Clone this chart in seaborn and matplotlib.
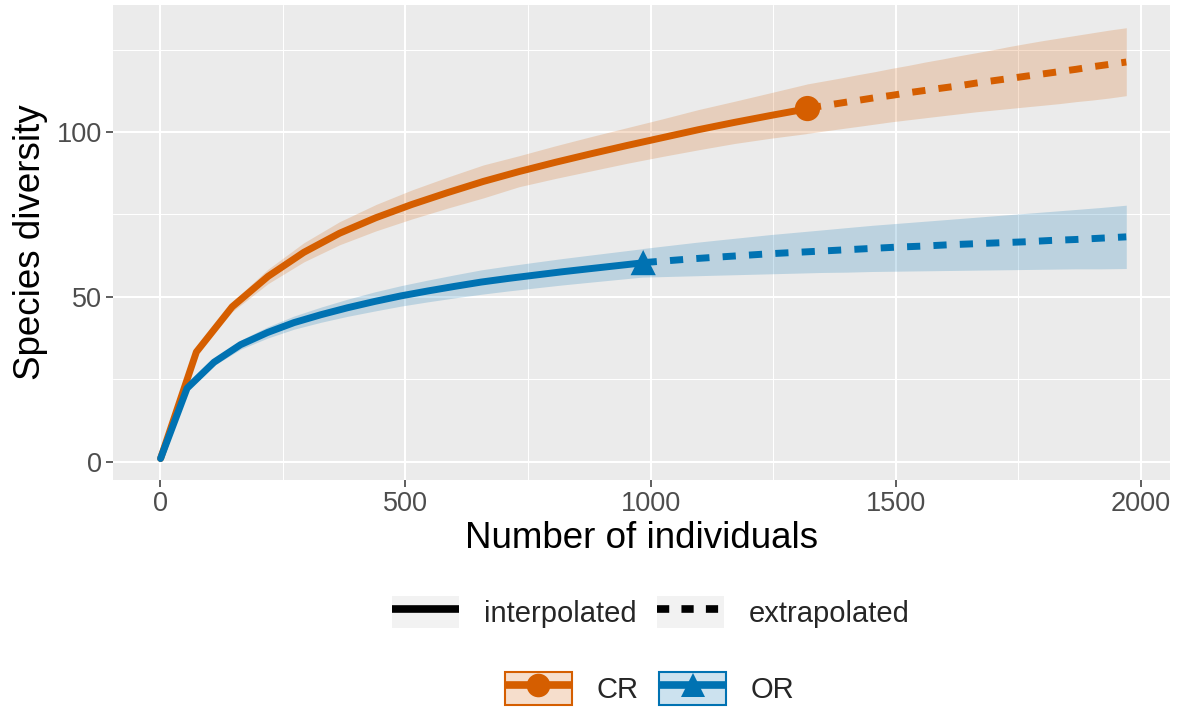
import numpy as np
import pandas as pd
import matplotlib
matplotlib.use("Agg")
import matplotlib.pyplot as plt
from matplotlib.lines import Line2D
from matplotlib.patches import Patch
from matplotlib.legend_handler import HandlerTuple
from matplotlib.ticker import MultipleLocator
import seaborn as sns

# ---- rarefaction / extrapolation estimates per site ----
sites = ["CR", "OR"]
colors = {"CR": "#D55E00", "OR": "#0072B2"}
markers = {"CR": "o", "OR": "^"}

cr_m_int = [1, 74, 147, 220, 293, 366, 440, 513, 586, 659, 732, 806, 879, 952,
            1025, 1098, 1171, 1245, 1318, 1320]
cr_qd_int = [1, 33.3, 47, 56.2, 63.5, 69.3, 74, 78, 81.6, 85, 88, 90.8, 93.4, 95.9,
             98.3, 100.7, 102.9, 105, 107, 107.1]
cr_lo_int = [1, 32.5, 45.5, 54, 60.6, 65.8, 70, 73.6, 76.9, 80, 83.4, 85.9, 88.2, 90.5,
             92.6, 94.6, 96.5, 98.1, 99.5, 99.6]
cr_hi_int = [1, 34.2, 48.5, 58.4, 66.4, 72.8, 78, 82.4, 86.3, 90, 92.8, 95.8, 98.6, 101.3,
             104, 106.8, 109.3, 111.9, 114.5, 114.6]

cr_m_ext = [1321, 1355, 1389, 1424, 1458, 1492, 1526, 1560, 1594, 1629, 1663, 1697,
            1731, 1765, 1800, 1834, 1868, 1902, 1936, 1970]
cr_qd_ext = [107.2, 108.0, 108.8, 109.6, 110.4, 111.1, 111.9, 112.6, 113.3, 114.0, 114.8,
             115.5, 116.2, 116.9, 117.6, 118.3, 119.0, 119.8, 120.5, 121.2]
cr_lo_ext = [99.6, 100.3, 101.0, 101.7, 102.4, 103.1, 103.7, 104.3, 104.9, 105.5, 106.1,
             106.6, 107.1, 107.6, 108.1, 108.6, 109.2, 109.7, 110.3, 111.0]
cr_hi_ext = [114.6, 115.5, 116.4, 117.4, 118.3, 119.3, 120.2, 121.2, 122.1, 123.1, 124.0,
             124.9, 125.9, 126.8, 127.7, 128.5, 129.3, 130.1, 130.9, 131.6]

or_m_int = [1, 55, 110, 164, 219, 273, 328, 382, 437, 491, 546, 601, 655, 710, 764,
            819, 873, 928, 983, 985]
or_qd_int = [1, 22.3, 30.2, 35.5, 39.2, 42.2, 44.6, 46.7, 48.6, 50.3, 51.8, 53.2, 54.5,
             55.6, 56.6, 57.6, 58.5, 59.4, 60.3, 60.4]
or_lo_int = [1, 21.8, 29.2, 34.1, 37.5, 40.2, 42.3, 44.1, 45.7, 47.2, 48.5, 49.7, 50.8,
             51.8, 52.7, 53.6, 54.4, 55.2, 56.0, 56.0]
or_hi_int = [1, 22.8, 31.2, 36.9, 40.9, 44.2, 46.9, 49.3, 51.5, 53.4, 55.1, 56.7, 58.2,
             59.4, 60.5, 61.6, 62.6, 63.6, 64.6, 64.7]

or_m_ext = [986, 1038, 1090, 1141, 1193, 1245, 1297, 1349, 1400, 1452, 1504, 1556, 1608,
            1659, 1711, 1763, 1815, 1867, 1918, 1970]
or_qd_ext = [60.4, 61.0, 61.6, 62.1, 62.6, 63.1, 63.5, 63.9, 64.3, 64.7, 65.1, 65.4, 65.8,
             66.1, 66.4, 66.7, 67.1, 67.4, 67.8, 68.2]
or_lo_ext = [56.0, 56.2, 56.4, 56.6, 56.8, 57.0, 57.2, 57.4, 57.5, 57.7, 57.8, 57.9, 58.0,
             58.1, 58.2, 58.3, 58.4, 58.5, 58.5, 58.6]
or_hi_ext = [64.7, 65.6, 66.5, 67.3, 68.1, 68.9, 69.6, 70.3, 71.0, 71.7, 72.3, 72.9, 73.5,
             74.1, 74.7, 75.3, 75.9, 76.5, 77.1, 77.8]

# observed sample size and richness
obs_m = [1320, 985]
obs_qd = [107.1, 60.4]

x_ticks = [0, 500, 1000, 1500, 2000]
y_ticks = [0, 50, 100]

# ---- assemble long table ----
frames = []
for site, parts in {
    "CR": [("interpolated", cr_m_int, cr_qd_int, cr_lo_int, cr_hi_int),
           ("extrapolated", cr_m_ext, cr_qd_ext, cr_lo_ext, cr_hi_ext)],
    "OR": [("interpolated", or_m_int, or_qd_int, or_lo_int, or_hi_int),
           ("extrapolated", or_m_ext, or_qd_ext, or_lo_ext, or_hi_ext)],
}.items():
    for method, m, qd, lo, hi in parts:
        frames.append(pd.DataFrame({"site": site, "method": method, "m": m,
                                    "qD": qd, "lo": lo, "hi": hi}))
df = pd.concat(frames, ignore_index=True)
obs = pd.DataFrame({"site": sites, "m": obs_m, "qD": obs_qd})

# ---- theme ----
sns.set_theme(style="darkgrid", rc={
    "axes.facecolor": "#EBEBEB",
    "grid.color": "white",
    "axes.edgecolor": "none",
})
plt.rcParams["font.family"] = ["Liberation Sans", "DejaVu Sans"]

fig = plt.figure(figsize=(11.77, 7.10), dpi=100)
ax = fig.add_axes([0.096, 0.324, 0.898, 0.669])

# confidence bands
for site in sites:
    d = df[df.site == site]
    ax.fill_between(d["m"], d["lo"], d["hi"], color=colors[site], alpha=0.2,
                    lw=0, zorder=2)

# estimate curves
sns.lineplot(data=df, x="m", y="qD", hue="site", style="method",
             palette=colors, dashes={"interpolated": "", "extrapolated": (1.9, 1.9)},
             linewidth=5, estimator=None, sort=False, legend=False, ax=ax, zorder=3)
for ln in ax.lines:
    ln.set_dash_capstyle("butt")

# observed points
sns.scatterplot(data=obs, x="m", y="qD", hue="site", style="site", palette=colors,
                markers=markers, s=330, edgecolor="none", legend=False, ax=ax, zorder=4)

ax.set_xlim(-96, 2059)
ax.set_ylim(-5.5, 138.5)
ax.set_xticks(x_ticks)
ax.set_yticks(y_ticks)
ax.xaxis.set_minor_locator(MultipleLocator(250))
ax.yaxis.set_minor_locator(MultipleLocator(25))
ax.grid(which="major", color="white", lw=1.5)
ax.grid(which="minor", color="white", lw=0.75)
ax.tick_params(which="major", length=5, width=1.1, color="#333333",
               labelsize=19.5, labelcolor="#4D4D4D", pad=3,
               bottom=True, left=True)
ax.tick_params(which="minor", length=0)
for s in ax.spines.values():
    s.set_visible(False)

ax.set_xlabel("Number of individuals", fontsize=26.5, color="black", labelpad=3)
ax.set_ylabel("Species diversity", fontsize=26.5, color="black", labelpad=6)

# ---- legends ----
key_bg = "#F2F2F2"
leg_kw = dict(handler_map={tuple: HandlerTuple(ndivide=1, pad=0)},
              loc="center", ncol=2, frameon=False, fontsize=21,
              handlelength=2.3, handleheight=1.35, handletextpad=0.85,
              columnspacing=0.7)

method_handles = [
    (Patch(facecolor=key_bg, edgecolor="none"),
     Line2D([], [], color="black", lw=5.5, solid_capstyle="butt")),
    (Patch(facecolor=key_bg, edgecolor="none"),
     Line2D([], [], color="black", lw=5.5, linestyle=(0, (1.6, 1.6)),
            dash_capstyle="butt")),
]
fig.legend(method_handles, ["interpolated", "extrapolated"],
           bbox_to_anchor=(0.553, 0.138), **leg_kw)

site_handles = []
for site in sites:
    c = colors[site]
    site_handles.append((
        Patch(facecolor=matplotlib.colors.to_rgba(c, 0.2), edgecolor=c, lw=1.5),
        Line2D([], [], color=c, lw=5.5, marker=markers[site], markersize=17,
               markeredgewidth=0, solid_capstyle="butt"),
    ))
fig.legend(site_handles, sites, bbox_to_anchor=(0.552, 0.03), **leg_kw)

fig.savefig("out.png", dpi=100)
